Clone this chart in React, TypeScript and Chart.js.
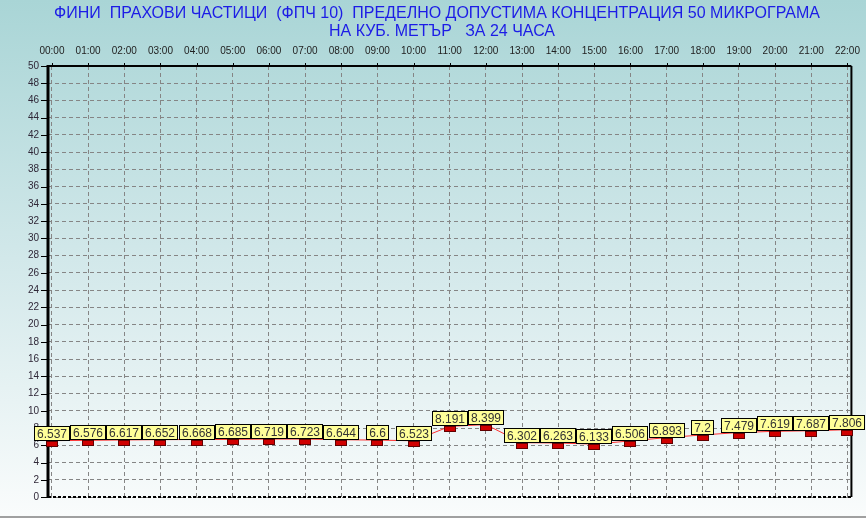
import React, { useEffect, useRef } from "react";
import { Chart, registerables } from "chart.js";

Chart.register(...registerables);

const titleLines = [
  "ФИНИ  ПРАХОВИ ЧАСТИЦИ  (ФПЧ 10)  ПРЕДЕЛНО ДОПУСТИМА КОНЦЕНТРАЦИЯ 50 МИКРОГРАМА",
  "НА КУБ. МЕТЪР   ЗА 24 ЧАСА",
];

const hours = [
  "00:00", "01:00", "02:00", "03:00", "04:00", "05:00", "06:00", "07:00",
  "08:00", "09:00", "10:00", "11:00", "12:00", "13:00", "14:00", "15:00",
  "16:00", "17:00", "18:00", "19:00", "20:00", "21:00", "22:00",
];

const values = [
  6.537, 6.576, 6.617, 6.652, 6.668, 6.685, 6.719, 6.723, 6.644, 6.6, 6.523,
  8.191, 8.399, 6.302, 6.263, 6.133, 6.506, 6.893, 7.2, 7.479, 7.619, 7.687, 7.806,
];

const valueLabels = [
  "6.537", "6.576", "6.617", "6.652", "6.668", "6.685", "6.719", "6.723",
  "6.644", "6.6", "6.523", "8.191", "8.399", "6.302", "6.263", "6.133",
  "6.506", "6.893", "7.2", "7.479", "7.619", "7.687", "7.806",
];

const yMin = 0;
const yMax = 50;
const yStep = 2;

const FONT = "'Liberation Sans', Arial, sans-serif";

const bgPlugin = {
  id: "bgPlugin",
  beforeDraw(chart: any) {
    const { ctx, width, height } = chart;
    ctx.save();
    const g = ctx.createLinearGradient(0, 0, 0, height);
    g.addColorStop(0, "#a9d5d6");
    g.addColorStop(0.5, "#d2e8ea");
    g.addColorStop(1, "#fafcfc");
    ctx.fillStyle = g;
    ctx.fillRect(0, 0, width, height);
    ctx.fillStyle = "#a0a0a0";
    ctx.fillRect(0, height - 2, width, 2);
    ctx.fillStyle = "#1c1ce6";
    ctx.font = "16px " + FONT;
    ctx.textAlign = "center";
    ctx.textBaseline = "middle";
    ctx.fillText(titleLines[0], 437, 14);
    ctx.fillText(titleLines[1], 442, 32);
    ctx.restore();
  },
};

const framePlugin = {
  id: "framePlugin",
  afterDraw(chart: any) {
    const { ctx, chartArea } = chart;
    const { left, right, top, bottom } = chartArea;
    const xs = chart.scales.x;
    const ys = chart.scales.y;
    ctx.save();
    ctx.strokeStyle = "#000";
    ctx.lineWidth = 2;
    ctx.setLineDash([3, 2]);
    ctx.beginPath();
    ctx.moveTo(left, bottom);
    ctx.lineTo(right, bottom);
    ctx.stroke();
    ctx.setLineDash([]);
    ctx.beginPath();
    ctx.moveTo(left, top);
    ctx.lineTo(right, top);
    ctx.stroke();
    ctx.beginPath();
    ctx.moveTo(right, top);
    ctx.lineTo(right, bottom);
    ctx.stroke();
    ctx.lineWidth = 3;
    ctx.beginPath();
    ctx.moveTo(left, top - 1);
    ctx.lineTo(left, bottom + 1);
    ctx.stroke();
    ctx.lineWidth = 1;
    for (let i = 0; i < hours.length; i++) {
      const x = Math.round(xs.getPixelForValue(i)) + 0.5;
      ctx.beginPath();
      ctx.moveTo(x, top - 3);
      ctx.lineTo(x, top);
      ctx.stroke();
    }
    for (let v = yMin; v <= yMax; v += yStep) {
      const y = Math.round(ys.getPixelForValue(v)) + 0.5;
      ctx.beginPath();
      ctx.moveTo(left - 7, y);
      ctx.lineTo(left, y);
      ctx.stroke();
    }
    ctx.restore();
  },
};

const markerPlugin = {
  id: "markerPlugin",
  afterDraw(chart: any) {
    const { ctx } = chart;
    const meta = chart.getDatasetMeta(0);
    ctx.save();
    meta.data.forEach((pt: any) => {
      const x = Math.round(pt.x);
      const y = Math.round(pt.y);
      ctx.fillStyle = "#d00000";
      ctx.fillRect(x - 6, y, 12, 6);
      ctx.strokeStyle = "#600000";
      ctx.lineWidth = 1;
      ctx.strokeRect(x - 5.5, y + 0.5, 11, 5);
    });
    ctx.font = "12px " + FONT;
    ctx.textAlign = "center";
    ctx.textBaseline = "middle";
    meta.data.forEach((pt: any, i: number) => {
      const text = valueLabels[i];
      const w = Math.round(ctx.measureText(text).width) + 6;
      const h = 15;
      let bx = Math.round(pt.x - w / 2);
      if (bx + w > chart.width - 1) bx = chart.width - 1 - w;
      const by = Math.round(pt.y) - h;
      ctx.fillStyle = "#ffff99";
      ctx.fillRect(bx, by, w, h);
      ctx.strokeStyle = "#000";
      ctx.lineWidth = 1;
      ctx.strokeRect(bx + 0.5, by + 0.5, w - 1, h - 1);
      ctx.fillStyle = "#333333";
      ctx.fillText(text, bx + w / 2, by + h / 2 + 1);
    });
    ctx.restore();
  },
};

export default function App() {
  const ref = useRef<HTMLCanvasElement>(null);
  useEffect(() => {
    document.body.style.margin = "0";
    const canvas = ref.current!;
    const chart = new Chart(canvas, {
      type: "line",
      data: {
        datasets: [
          {
            data: values.map((v, i) => ({ x: i, y: v })),
            borderColor: "#ff3030",
            borderWidth: 1,
            pointRadius: 0,
            tension: 0,
          },
        ],
      },
      options: {
        animation: false,
        responsive: false,
        devicePixelRatio: 1,
        layout: { padding: { left: 0, right: 10, top: 0, bottom: 21 } },
        plugins: {
          legend: { display: false },
          title: { display: false },
          tooltip: { enabled: false },
        },
        scales: {
          x: {
            type: "linear",
            position: "top",
            min: -0.11,
            max: 22.11,
            afterFit: (s: any) => {
              s.height = 66;
            },
            afterBuildTicks: (s: any) => {
              s.ticks = hours.map((_, i) => ({ value: i }));
            },
            ticks: {
              autoSkip: false,
              maxRotation: 0,
              padding: 6,
              color: "#222",
              font: { family: FONT, size: 10 },
              callback: (v: any) => hours[v] ?? "",
            },
            grid: {
              color: "#858585",
              lineWidth: 1,
              drawTicks: true,
              tickLength: 3,
              tickColor: "rgba(0,0,0,0)",
            },
            border: { display: false, dash: [4, 3] },
          },
          y: {
            min: yMin,
            max: yMax,
            afterFit: (s: any) => {
              s.width = 48;
            },
            ticks: {
              stepSize: yStep,
              padding: 2,
              color: "#302838",
              font: { family: FONT, size: 10 },
            },
            grid: {
              color: "#858585",
              lineWidth: 1,
              tickLength: 7,
              tickColor: "rgba(0,0,0,0)",
            },
            border: { display: false, dash: [4, 3] },
          },
        },
      },
      plugins: [bgPlugin, framePlugin, markerPlugin],
    } as any);
    return () => chart.destroy();
  }, []);
  return (
    <div style={{ position: "absolute", left: 0, top: 0, width: 866, height: 518 }}>
      <canvas ref={ref} width={866} height={518} style={{ display: "block", width: 866, height: 518 }} />
    </div>
  );
}
